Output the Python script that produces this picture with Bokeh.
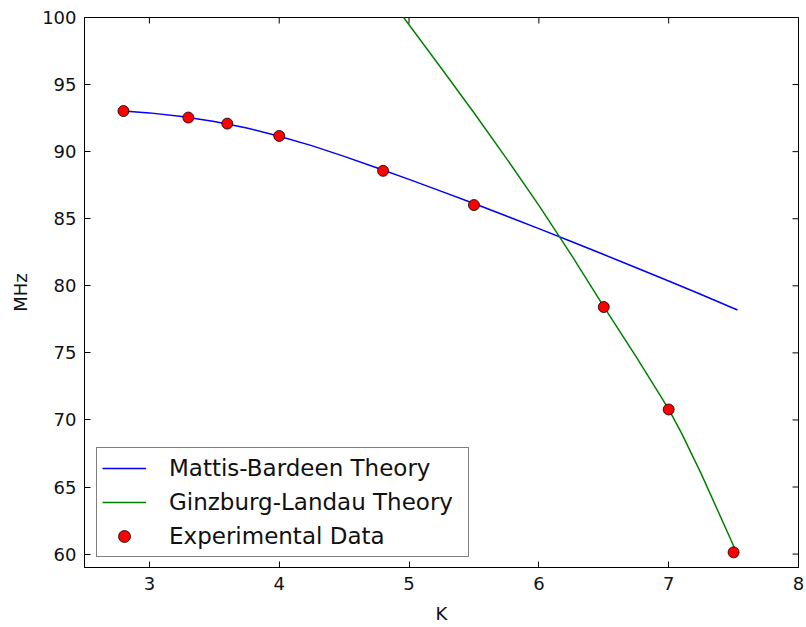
from bokeh.plotting import figure
from bokeh.models import Range1d, Legend, LegendItem, FixedTicker
from bokeh.embed import file_html
from bokeh.resources import INLINE

# Mattis-Bardeen theory curve
mb_x = [2.8, 3.0, 3.25, 3.5, 3.75, 4.0, 4.25, 4.5, 4.75, 5.0, 5.25, 5.5, 5.75,
        6.0, 6.25, 6.5, 6.75, 7.0, 7.25, 7.53]
mb_y = [93.03, 92.89, 92.615, 92.24, 91.765, 91.15, 90.45, 89.65, 88.8, 87.93,
        87.04, 86.13, 85.2, 84.26, 83.3, 82.33, 81.35, 80.36, 79.35, 78.2]

# Ginzburg-Landau theory curve
gl_x = [4.92, 5.25, 5.5, 5.75, 6.0, 6.25, 6.5, 6.75, 7.0, 7.1, 7.25, 7.51]
gl_y = [100.5, 96.2, 92.9, 89.5, 86.0, 82.3, 78.45, 74.7, 70.8, 69.0, 66.0, 60.4]

# Experimental data
exp_x = [2.8, 3.3, 3.6, 4.0, 4.8, 5.5, 6.5, 7.0, 7.5]
exp_y = [93.03, 92.54, 92.09, 91.17, 88.57, 86.02, 78.42, 70.78, 60.13]

x_ticks = [3, 4, 5, 6, 7, 8]
y_ticks = [60, 65, 70, 75, 80, 85, 90, 95, 100]

X_MIN, X_MAX = 2.5, 8
Y_MIN, Y_MAX = 59, 100

FONT = "DejaVu Sans"
W, H = 806, 627
BL, BR, BT, BB = 84, 8, 17, 60
TICK = 6

p = figure(width=W, height=H, output_backend="svg", toolbar_location=None,
           x_range=Range1d(X_MIN, X_MAX), y_range=Range1d(Y_MIN, Y_MAX),
           min_border_left=BL, min_border_right=BR, min_border_top=BT,
           min_border_bottom=BB)
p.outline_line_color = "black"
p.outline_line_width = 1
p.xgrid.visible = False
p.ygrid.visible = False
p.background_fill_color = "white"
p.border_fill_color = "white"

r_mb = p.line(mb_x, mb_y, line_color="#0000ff", line_width=1.5)
r_gl = p.line(gl_x, gl_y, line_color="#008000", line_width=1.5)
r_exp = p.scatter(exp_x, exp_y, marker="circle", size=11, fill_color="#ff0000",
                  line_color="black", line_width=0.8)

# inward ticks on the top and right frame edges (mirroring the bottom/left axes)
fw = W - BL - BR
fh = H - BT - BB
dy = TICK * (Y_MAX - Y_MIN) / fh
dx = TICK * (X_MAX - X_MIN) / fw
p.segment(x0=x_ticks, y0=[Y_MAX] * len(x_ticks), x1=x_ticks,
          y1=[Y_MAX - dy] * len(x_ticks), line_color="black", line_width=1)
p.segment(x0=[X_MAX] * len(y_ticks), y0=y_ticks, x1=[X_MAX - dx] * len(y_ticks),
          y1=y_ticks, line_color="black", line_width=1)


def style_axis(ax, ticks):
    ax.ticker = FixedTicker(ticks=ticks)
    ax.major_tick_in = TICK
    ax.major_tick_out = 0
    ax.minor_tick_in = 0
    ax.minor_tick_out = 0
    ax.axis_line_color = "black"
    ax.major_tick_line_color = "black"
    ax.major_label_text_font = FONT
    ax.major_label_text_font_size = "18px"
    ax.major_label_text_color = "#111111"
    ax.axis_label_text_font = FONT
    ax.axis_label_text_font_size = "18px"
    ax.axis_label_text_font_style = "normal"
    ax.axis_label_text_color = "#111111"


xa = p.xaxis[0]
style_axis(xa, x_ticks)
xa.axis_label = "K"
xa.major_label_standoff = 9
xa.axis_label_standoff = 10

ya = p.yaxis[0]
style_axis(ya, y_ticks)
ya.axis_label = "MHz"
ya.major_label_standoff = 8
ya.axis_label_standoff = 8

legend = Legend(items=[
    LegendItem(label="Mattis-Bardeen Theory", renderers=[r_mb]),
    LegendItem(label="Ginzburg-Landau Theory", renderers=[r_gl]),
    LegendItem(label="Experimental Data", renderers=[r_exp]),
], location=(12, 10))
legend.label_text_font = FONT
legend.label_text_font_size = "23px"
legend.label_text_color = "#111111"
legend.label_height = 30
legend.glyph_height = 30
legend.glyph_width = 44
legend.label_standoff = 23
legend.label_width = 294
legend.spacing = 4
legend.padding = 5
legend.margin = 0
legend.border_line_color = "black"
legend.border_line_width = 1
legend.background_fill_color = "white"
legend.background_fill_alpha = 1
p.add_layout(legend, "center")

open("out.html", "w").write(file_html(p, INLINE))
